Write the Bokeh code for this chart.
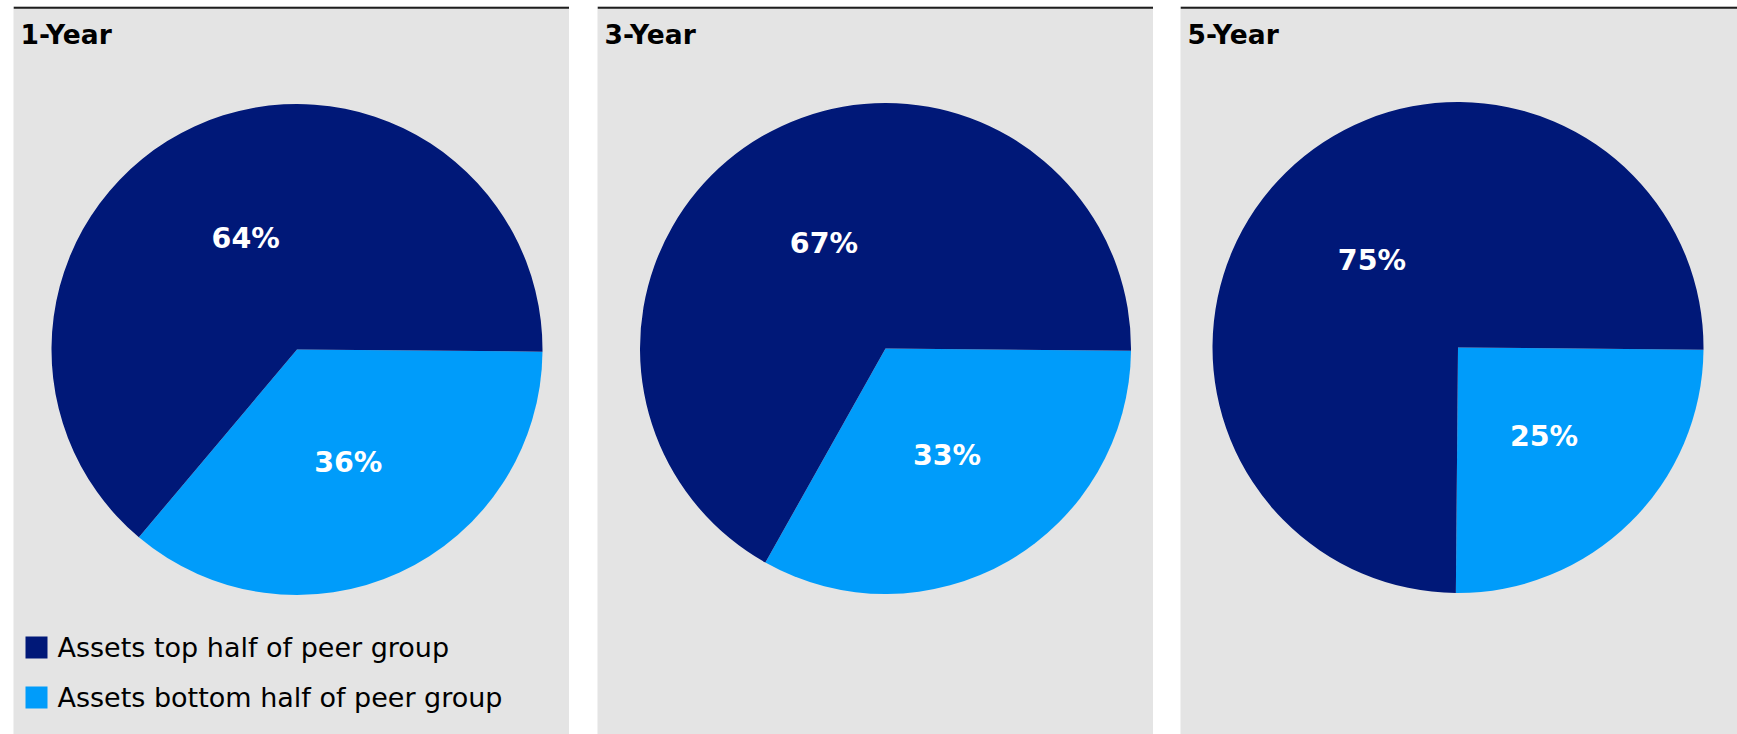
import numpy as np
from bokeh.plotting import figure
from bokeh.layouts import row, column
from bokeh.models import Spacer, ColumnDataSource, Range1d
from bokeh.embed import file_html
from bokeh.resources import INLINE
from bokeh.core.properties import value

# ---- data ----
periods = ["1-Year", "3-Year", "5-Year"]
series = ["Assets top half of peer group", "Assets bottom half of peer group"]
top_half = [64, 67, 75]
bottom_half = [36, 33, 25]

# ---- styles / layout (page pixel positions) ----
colors = {"top": "#001878", "bottom": "#009CFA"}
GRAY = "#E4E4E4"
FONT = value("DejaVu Sans")
TOP = 6                      # figure top on page
H = 728                      # figure height -> bottom at 734
PAGE_BOTTOM = TOP + H
panel_left = [13, 597, 1180]
panel_width = [556, 556, 557]
gaps = [28, 27]
pie_center_page = [(296.5, 349), (885, 348), (1457.5, 347)]
R = 245.5
START = np.deg2rad(-0.5)
LABEL_FRAC = 0.5

figs = []
for i, name in enumerate(periods):
    w = panel_width[i]
    p = figure(width=w, height=H, x_range=Range1d(0, w), y_range=Range1d(0, H),
               output_backend="svg", toolbar_location=None, tools="",
               x_axis_location=None, y_axis_location=None, min_border=0,
               background_fill_color=GRAY, border_fill_color=GRAY,
               outline_line_color=None)
    p.grid.visible = False

    # top rule (page y 6 .. 8.3)
    p.quad(left=[0], right=[w], top=[H], bottom=[H - 2.3], fill_color="#1e1e1e", line_color=None)

    cx = pie_center_page[i][0] - panel_left[i]
    cy = PAGE_BOTTOM - pie_center_page[i][1]

    vals = np.array([bottom_half[i], top_half[i]], dtype=float)   # clockwise order
    frac = vals / vals.sum()
    cum = np.concatenate([[0.0], np.cumsum(frac)])
    starts = START - 2 * np.pi * cum[:-1]
    ends = START - 2 * np.pi * cum[1:]
    src = ColumnDataSource(dict(start=starts, end=ends,
                                color=[colors["bottom"], colors["top"]]))
    p.wedge(x=cx, y=cy, radius=R, start_angle="start", end_angle="end",
            direction="clock", fill_color="color", line_color=None, source=src)

    mid = (starts + ends) / 2
    lsrc = ColumnDataSource(dict(x=cx + LABEL_FRAC * R * np.cos(mid),
                                 y=cy + LABEL_FRAC * R * np.sin(mid) - 1,
                                 t=[f"{int(v)}%" for v in vals]))
    p.text(x="x", y="y", text="t", source=lsrc, text_color="white",
           text_font=FONT, text_font_style="bold", text_font_size="28.5px",
           text_align="center", text_baseline="middle")

    # panel title
    p.text(x=[7], y=[PAGE_BOTTOM - 33.5], text=[name], text_color="black",
           text_font=FONT, text_font_style="bold", text_font_size="26.5px",
           text_align="left", text_baseline="middle")

    if i == 0:
        lg_sq_x = 36 - panel_left[i]
        lg_y = [PAGE_BOTTOM - 647, PAGE_BOTTOM - 697]
        lg = ColumnDataSource(dict(x=[lg_sq_x] * 2, y=lg_y,
                                   tx=[57 - panel_left[i]] * 2,
                                   ty=[y + 0.5 for y in lg_y],
                                   label=series,
                                   color=[colors["top"], colors["bottom"]]))
        p.rect(x="x", y="y", width=22, height=22, width_units="screen",
               height_units="screen", fill_color="color", line_color=None, source=lg)
        p.text(x="tx", y="ty", text="label", source=lg, text_color="black",
               text_font=FONT, text_font_size="27px",
               text_align="left", text_baseline="middle")
    figs.append(p)

panels = row(Spacer(width=panel_left[0], height=H), figs[0],
             Spacer(width=gaps[0], height=H), figs[1],
             Spacer(width=gaps[1], height=H), figs[2])
layout = column(Spacer(width=10, height=TOP), panels)

open("out.html", "w").write(file_html(layout, INLINE))
